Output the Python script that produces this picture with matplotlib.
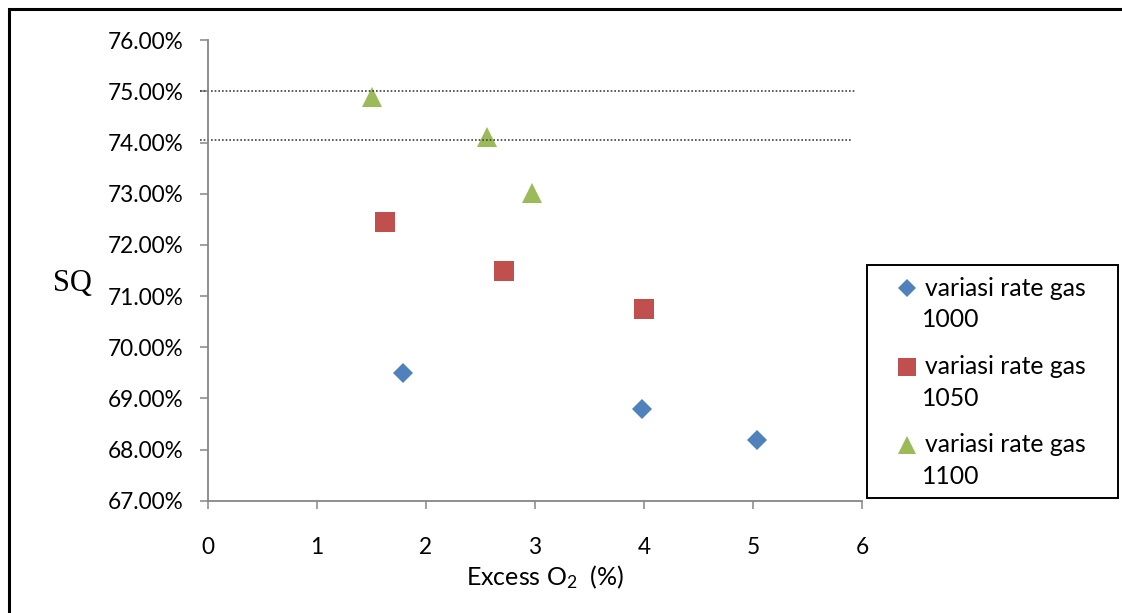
import matplotlib

matplotlib.use("Agg")
import matplotlib.pyplot as plt
from matplotlib.lines import Line2D
from matplotlib.patches import Rectangle
from matplotlib.ticker import FuncFormatter, MultipleLocator

plt.rcParams["font.family"] = ["Lato", "DejaVu Sans"]
plt.rcParams["mathtext.fontset"] = "custom"
plt.rcParams["mathtext.rm"] = "Lato"
plt.rcParams["mathtext.it"] = "Lato:italic"

# excess O2 (%) and SQ (%) for each gas rate
x_1000 = [1.79, 3.98, 5.04]
sq_1000 = [69.50, 68.79, 68.18]
x_1050 = [1.62, 2.72, 4.00]
sq_1050 = [72.44, 71.49, 70.75]
x_1100 = [1.50, 2.56, 2.97]
sq_1100 = [74.90, 74.11, 73.02]

series_labels = ["variasi rate gas", "variasi rate gas", "variasi rate gas"]
series_rates = ["1000", "1050", "1100"]
ref_lines = [75.00, 74.05]

BLUE = "#4F81BD"
RED = "#C0504D"
GREEN = "#9BBB59"
AXIS = "#868686"

W, H = 1122, 613
fig = plt.figure(figsize=(W / 100, H / 100), dpi=100)
ax = fig.add_axes([208 / W, 1 - 500.7 / H, 654 / W, 460.4 / H])

ax.plot(x_1000, sq_1000, "D", color=BLUE, ms=10.3, mew=0, clip_on=False)
ax.plot(x_1050, sq_1050, "s", color=RED, ms=15, mew=0, clip_on=False)
ax.plot(x_1100, sq_1100, "^", color=GREEN, ms=15, mew=0, clip_on=False)

# the two dotted guide lines
ax.hlines(ref_lines[0], -0.07, 5.945, colors="#404040", linestyles=(0, (1, 1.2)), lw=1.2, clip_on=False)
ax.hlines(ref_lines[1], -0.07, 5.91, colors="#404040", linestyles=(0, (1, 1.2)), lw=1.2, clip_on=False)

ax.set_xlim(0, 6)
ax.set_ylim(67, 76)
ax.xaxis.set_major_locator(MultipleLocator(1))
ax.yaxis.set_major_locator(MultipleLocator(1))
ax.yaxis.set_major_formatter(FuncFormatter(lambda v, _: f"{v:.2f}%"))

for side in ("top", "right"):
    ax.spines[side].set_visible(False)
for side in ("left", "bottom"):
    ax.spines[side].set_color(AXIS)
    ax.spines[side].set_linewidth(1.3)
ax.tick_params(axis="both", colors=AXIS, width=1.1, length=5.8, direction="out", labelcolor="black", labelsize=16.3)
ax.tick_params(axis="y", pad=12)
ax.tick_params(axis="x", pad=20)

ax.set_xlabel("Excess O$_2$  (%)", fontsize=18, va="center")
ax.xaxis.set_label_coords((545 - 208) / 654, (500.7 - 577) / 460.4)

fig.text(53 / W, 1 - 283 / H, "SQ", family="Liberation Serif", fontsize=22, ha="left", va="center")

# legend box drawn by hand so the marker sits beside the first text line
fig.add_artist(Rectangle((867 / W, 1 - 498 / H), (1118 - 867) / W, (498 - 265) / H,
                         transform=fig.transFigure, fill=False, edgecolor="black", lw=1.4))
styles = [("D", BLUE, 9), ("s", RED, 13), ("^", GREEN, 13)]
rows_y = [288.3, 366.7, 445]
for (marker, color, size), label, rate, y in zip(styles, series_labels, series_rates, rows_y):
    fig.add_artist(Line2D([906.7 / W], [1 - y / H], marker=marker, color=color, ms=size, mew=0,
                          transform=fig.transFigure))
    fig.text(925 / W, 1 - y / H, label, fontsize=17.8, ha="left", va="center")
    fig.text(922 / W, 1 - (y + 31.5) / H, rate, fontsize=17.8, ha="left", va="center")

# outer frame of the chart object
fig.add_artist(Rectangle((9 / W, -0.1), 1.2, 1.1 - 9 / H, transform=fig.transFigure,
                         fill=False, edgecolor="black", lw=2.2))

fig.savefig("out.png", dpi=100)
